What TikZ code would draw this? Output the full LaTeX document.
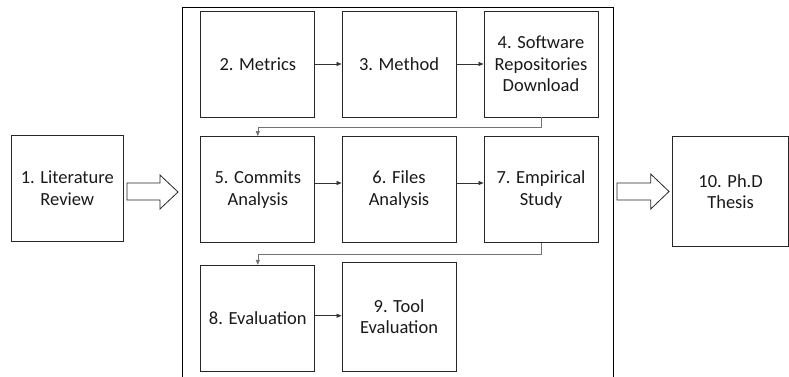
\documentclass[tikz,border=0pt]{standalone}
\usepackage{fontspec}
\setmainfont{Carlito}
\usetikzlibrary{arrows.meta,shapes.arrows}
\begin{document}
\begin{tikzpicture}[x=1pt,y=-1pt,
  stepbox/.style={draw=black!85,line width=0.9pt,minimum width=114pt,minimum height=106pt,
    align=center,inner sep=0pt,font=\fontsize{18.5}{21.5}\selectfont,text=black!90},
  conn/.style={draw=black!80,line width=0.6pt,-{Triangle[length=5pt,width=4pt]}},
  elbow/.style={draw=black!55,line width=0.6pt,-{Triangle[length=5pt,width=4pt]}},
  bigarrow/.style={draw=black!85,line width=0.8pt,fill=white}]
\useasboundingbox (0,0) rectangle (789,376);
\clip (0,0) rectangle (789,376);
% frame
\draw[black,line width=1pt] (182,380) -- (182,7) -- (613.5,7) -- (613.5,380);
% boxes
\node[stepbox,minimum width=111.5pt,minimum height=106.5pt] (b1) at (67.3,188.3) {1. Literature\\Review};
\node[stepbox] (b2) at (257.8,64) {2. Metrics};
\node[stepbox] (b3) at (399,64) {3. Method};
\node[stepbox] (b4) at (541,64) {4. Software\\Repositories\\Download};
\node[stepbox] (b5) at (257.8,189.6) {5. Commits\\Analysis};
\node[stepbox] (b6) at (399,189.6) {6. Files\\Analysis};
\node[stepbox] (b7) at (541,189.6) {7. Empirical\\Study};
\node[stepbox] (b8) at (257.8,318.3) {8. Evaluation};
\node[stepbox,minimum height=109pt] (b9) at (399,316.5) {9. Tool\\Evaluation};
\node[stepbox,minimum width=116pt,minimum height=109.5pt] (b10) at (730.6,191.5) {10. Ph.D\\Thesis};
% connectors
\draw[conn] (b2.east) -- (b3.west);
\draw[conn] (b3.east) -- (b4.west);
\draw[conn] (b5.east |- 0,183) -- (b6.west |- 0,183);
\draw[conn] (b6.east |- 0,183) -- (b7.west |- 0,183);
\draw[conn] (b8.east |- 0,315.7) -- (b9.west |- 0,315.7);
\draw[elbow] (b4.south) -- ++(0,10.3) -| (b5.north);
\draw[elbow] (b7.south) -- ++(0,11.3) -| (b8.north);
% block arrows
\draw[bigarrow] (127,183) -- (160,183) -- (160,175) -- (178,192) -- (160,209) -- (160,200) -- (127,200) -- cycle;
\draw[bigarrow] (617,183) -- (650.7,183) -- (650.7,174) -- (669,191.5) -- (650.7,209) -- (650.7,200) -- (617,200) -- cycle;
\end{tikzpicture}
\end{document}
